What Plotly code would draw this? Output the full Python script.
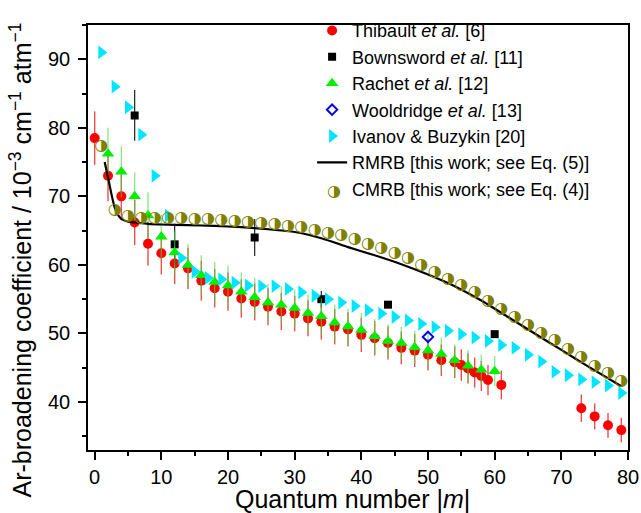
import plotly.graph_objects as go

# ---------------- data ----------------
thib_m = [0, 2, 4, 6, 8, 10, 12, 14, 16, 18, 20, 22, 24, 26, 28, 30, 32, 34, 36, 38,
          40, 42, 44, 46, 48, 50, 52, 54, 55, 56, 57, 58, 59, 61, 73, 75, 77, 79]
thib_y = [78.5, 73.0, 70.0, 66.2, 63.1, 61.7, 60.2, 59.5, 57.7, 56.6, 56.1, 55.1, 54.6, 53.9,
          53.2, 52.9, 52.2, 51.7, 51.0, 50.6, 49.8, 49.3, 48.6, 47.9, 47.5, 46.9, 46.1, 45.8,
          45.4, 44.9, 44.3, 43.8, 43.2, 42.5, 39.1, 37.9, 36.6, 35.9]
thib_err = [3.9, 3.7, 3.5, 3.3, 3.2, 3.1, 3.0, 3.0, 2.9, 2.8, 2.8, 2.8, 2.7, 2.7, 2.7, 2.6,
            2.6, 2.6, 2.6, 2.5, 2.5, 2.5, 2.4, 2.4, 2.4, 2.3, 2.3, 2.3, 2.3, 2.2, 2.2, 2.2,
            2.2, 2.1, 2.0, 1.9, 1.8, 1.8]

bown_m = [6, 12, 24, 34, 44, 60]
bown_y = [81.8, 63.0, 64.0, 55.0, 54.2, 49.9]
bown_err = [3.7, 3.0, 2.7, 1.2, 0.0, 0.0]

rach_m = [2, 4, 6, 8, 10, 12, 14, 16, 18, 20, 22, 24, 26, 28, 30, 32, 34, 36, 38, 40,
          42, 44, 46, 48, 50, 52, 54, 56, 58, 60]
rach_y = [76.2, 73.6, 70.0, 67.2, 64.1, 61.8, 60.0, 58.5, 57.5, 57.0, 56.1, 55.3, 54.5,
          54.2, 53.7, 53.0, 52.5, 51.6, 51.0, 50.5, 49.6, 48.9, 48.6, 48.0, 47.5, 47.0,
          46.1, 45.3, 44.7, 44.5]
rach_err = [3.8, 3.7, 3.5, 3.4, 3.2, 3.1, 3.0, 2.9, 2.9, 2.9, 2.8, 2.8, 2.7, 2.7, 2.7,
            2.7, 2.6, 2.6, 2.6, 2.5, 2.5, 2.4, 2.4, 2.4, 2.4, 2.4, 2.3, 2.3, 2.2, 2.2]

wool_m = [50]
wool_y = [49.5]

ivan_m = [1, 3, 5, 7, 9, 11, 13, 15, 17, 19, 21, 23, 25, 27, 29, 31, 33, 35, 37, 39,
          41, 43, 45, 47, 49, 51, 53, 55, 57, 59, 61, 63, 65, 67, 69, 71, 73, 75, 77, 79]
ivan_y = [91.0, 86.0, 83.0, 79.0, 73.0, 67.2, 61.0, 59.0, 58.1, 57.9, 57.4, 57.0, 56.9,
          56.9, 56.5, 56.0, 55.5, 55.0, 54.5, 54.0, 53.4, 52.9, 52.4, 51.9, 51.4, 50.9,
          50.4, 49.9, 49.4, 48.9, 48.3, 47.9, 46.9, 45.9, 44.4, 43.9, 43.3, 42.9, 42.4, 41.3]

rmrb_m = [1.5, 2, 2.5, 3, 3.5, 4, 5, 6, 8, 10, 14, 18, 22, 26, 30, 34, 38, 42, 46, 50,
          54, 58, 62, 66, 70, 74, 79]
rmrb_y = [75.0, 72.8, 70.4, 68.4, 67.3, 66.7, 66.3, 66.2, 66.0, 65.9, 65.8, 65.7, 65.5,
          65.2, 64.8, 63.9, 62.6, 61.4, 60.1, 58.6, 56.9, 54.8, 52.4, 50.0, 47.6, 45.2, 42.3]

cmrb_m = [1, 3, 5, 7, 9, 11, 13, 15, 17, 19, 21, 23, 25, 27, 29, 31, 33, 35, 37, 39,
          41, 43, 45, 47, 49, 51, 53, 55, 57, 59, 61, 63, 65, 67, 69, 71, 73, 75, 77, 79]
cmrb_y = [77.4, 68.0, 67.1, 66.9, 66.8, 66.8, 66.8, 66.7, 66.7, 66.6, 66.4, 66.3, 66.1,
          66.0, 65.7, 65.5, 65.1, 64.7, 64.3, 63.8, 63.1, 62.5, 61.8, 61.0, 60.0, 59.0,
          58.0, 57.0, 56.0, 54.8, 53.6, 52.4, 51.3, 50.1, 49.0, 47.7, 46.6, 45.3, 44.2, 43.1]

names = ["Thibault <i>et al.</i> [6]", "Bownsword <i>et al.</i> [11]",
         "Rachet <i>et al.</i> [12]", "Wooldridge <i>et al.</i> [13]",
         "Ivanov &amp; Buzykin [20]", "RMRB [this work; see Eq. (5)]",
         "CMRB [this work; see Eq. (4)]"]
x_title = "Quantum number |<i>m</i>|"
y_title = ("Ar-broadening coefficient / 10<sup>\u22123</sup> cm<sup>\u22121</sup> "
           "atm<sup>\u22121</sup>")

OLIVE = "#808000"
HALF = "\u25d1"

fig = go.Figure()

fig.add_trace(go.Scatter(
    x=thib_m, y=thib_y, mode="markers", name=names[0],
    marker=dict(symbol="circle", size=10, color="#ff0000"),
    error_y=dict(type="data", array=thib_err, visible=True, width=0,
                 thickness=1.4, color="rgba(235,30,30,0.8)")))

fig.add_trace(go.Scatter(
    x=bown_m, y=bown_y, mode="markers", name=names[1],
    marker=dict(symbol="square", size=8, color="#000000"),
    error_y=dict(type="data", array=bown_err, visible=True, width=0,
                 thickness=1.2, color="#222222")))

fig.add_trace(go.Scatter(
    x=rach_m, y=rach_y, mode="markers", name=names[2],
    marker=dict(symbol="triangle-up", size=11, color="#00ee00"),
    error_y=dict(type="data", array=rach_err, visible=True, width=0,
                 thickness=1.4, color="rgba(60,220,60,0.6)")))

fig.add_trace(go.Scatter(
    x=wool_m, y=wool_y, mode="markers", name=names[3],
    marker=dict(symbol="diamond-open", size=8, color="#0000ee",
                line=dict(width=2, color="#0000ee"))))

fig.add_trace(go.Scatter(
    x=ivan_m, y=ivan_y, mode="markers", name=names[4],
    marker=dict(symbol="triangle-right", size=12, color="#00e5ff")))

fig.add_trace(go.Scatter(
    x=rmrb_m, y=rmrb_y, mode="lines", name=names[5],
    line=dict(color="#000000", width=2.2, shape="spline", smoothing=0.5)))

# CMRB: half-filled circles drawn as a glyph
fig.add_trace(go.Scatter(
    x=cmrb_m, y=cmrb_y, mode="text", text=[HALF] * len(cmrb_m),
    textposition="middle center", showlegend=False, legendgroup="cmrb",
    textfont=dict(family="DejaVu Sans", size=16, color=OLIVE), hoverinfo="x+y"))
# legend entry for CMRB
fig.add_trace(go.Scatter(
    x=[None], y=[None], mode="markers", name=names[6], legendgroup="cmrb",
    marker=dict(symbol="circle", size=10, color="rgba(0,0,0,0)")))

fig.update_layout(
    width=641, height=513,
    paper_bgcolor="white", plot_bgcolor="white",
    margin=dict(l=88, r=13, t=15, b=63),
    font=dict(family="Liberation Sans, Arial, sans-serif", size=20, color="#000"),
    showlegend=True,
    legend=dict(x=0.415, y=1.03, xanchor="left", yanchor="top",
                bgcolor="rgba(0,0,0,0)", font=dict(size=18), tracegroupgap=0),
    annotations=[
        dict(text=HALF, xref="paper", yref="paper", x=0.4556, y=0.611,
             xanchor="center", yanchor="middle", showarrow=False,
             font=dict(family="DejaVu Sans", size=16, color=OLIVE)),
        dict(text=y_title, xref="paper", yref="paper", x=-0.124, y=0.446,
             xanchor="center", yanchor="middle", textangle=-90, showarrow=False,
             font=dict(size=25)),
        dict(text=x_title, xref="paper", yref="paper", x=0.4907, y=-0.116,
             xanchor="center", yanchor="middle", showarrow=False,
             font=dict(size=25)),
    ],
)

fig.update_xaxes(
    range=[-1, 80], tickmode="linear", tick0=0, dtick=10,
    ticks="outside", ticklen=8, tickwidth=1.5, tickcolor="#000",
    minor=dict(dtick=5, ticks="outside", ticklen=4, tickwidth=1.5, tickcolor="#000"),
    showline=True, linecolor="#000", linewidth=1.5, mirror=True,
    showgrid=False, zeroline=False, automargin=False,
    tickfont=dict(size=20), ticklabelstandoff=0)

fig.update_yaxes(
    range=[33, 95], tickmode="linear", tick0=40, dtick=10,
    ticks="outside", ticklen=8, tickwidth=1.5, tickcolor="#000",
    minor=dict(dtick=5, ticks="outside", ticklen=4, tickwidth=1.5, tickcolor="#000"),
    showline=True, linecolor="#000", linewidth=1.5, mirror=True,
    showgrid=False, zeroline=False, automargin=False,
    tickfont=dict(size=20), ticklabelstandoff=4)

fig.write_html("out.html", config={"displayModeBar": False},
               post_script="document.body.style.margin='0px';")
